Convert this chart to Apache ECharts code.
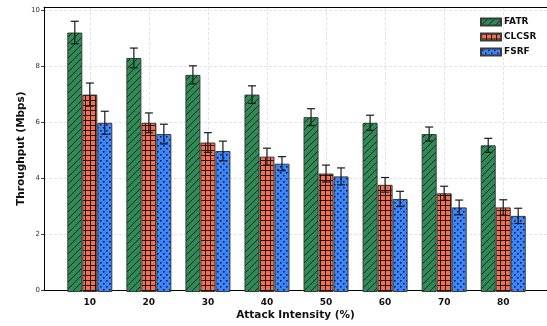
<!DOCTYPE html>
<html><head><meta charset="utf-8">
<script src="https://cdn.jsdelivr.net/npm/echarts@6/dist/echarts.min.js"></script>
<style>html,body{margin:0;padding:0;background:#fff}#c{width:547px;height:326px}</style>
</head><body><div id="c"></div>
<script>
const categories = ['10','20','30','40','50','60','70','80'];
const seriesNames = ['FATR','CLCSR','FSRF'];
const fatr = [9.2, 8.3, 7.7, 7.0, 6.2, 6.0, 5.6, 5.2];
const clcsr = [7.0, 6.0, 5.3, 4.8, 4.2, 3.8, 3.5, 3.0];
const fsrf = [6.0, 5.6, 5.0, 4.55, 4.1, 3.3, 3.0, 2.7];
const fatrErr = [0.4, 0.35, 0.32, 0.31, 0.3, 0.27, 0.25, 0.25];
const clcsrErr = [0.41, 0.35, 0.35, 0.3, 0.3, 0.26, 0.25, 0.27];
const fsrfErr = [0.41, 0.35, 0.35, 0.25, 0.3, 0.27, 0.26, 0.27];
const yTicks = [0, 2, 4, 6, 8, 10];

function tile(size, base, draw){
  const c = document.createElement('canvas');
  c.width = size; c.height = size;
  const g = c.getContext('2d');
  g.fillStyle = base; g.fillRect(0,0,size,size);
  draw(g, size);
  return c;
}
const greenPat = tile(7, '#2e8b57', (g,s)=>{
  g.strokeStyle = 'rgba(0,0,0,0.8)'; g.lineWidth = 0.9;
  g.beginPath();
  g.moveTo(0,s); g.lineTo(s,0);
  g.moveTo(-1,1); g.lineTo(1,-1);
  g.moveTo(s-1,s+1); g.lineTo(s+1,s-1);
  g.stroke();
});
const redPat = tile(5, '#f0714f', (g,s)=>{
  g.fillStyle = 'rgba(0,0,0,0.8)';
  g.fillRect(0,0,s,1); g.fillRect(0,0,1,s);
});
const bluePat = tile(6, '#3a86ff', (g,s)=>{
  g.fillStyle = 'rgba(0,0,0,0.9)';
  g.fillRect(1,1,1.5,1.5); g.fillRect(4,4,1.5,1.5);
});
const pats = [greenPat, redPat, bluePat];
const vals = [fatr, clcsr, fsrf];
const errs = [fatrErr, clcsrErr, fsrfErr];

const BW = 15;
const barSeries = seriesNames.map((n,i)=>({
  name: n, type: 'bar', xAxisIndex: 0, yAxisIndex: 0,
  barWidth: BW, barGap: '0%',
  data: vals[i],
  itemStyle: { color: {image: pats[i], repeat: 'repeat'}, borderColor: '#3a3a3a', borderWidth: 1 },
  z: 3
}));
const errSeries = seriesNames.map((n,i)=>({
  name: n + ' err', type: 'custom', xAxisIndex: 0, yAxisIndex: 0, z: 5,
  data: vals[i].map((v,k)=>[k, v, errs[i][k]]),
  renderItem: function(params, api){
    const k = api.value(0), v = api.value(1), e = api.value(2);
    const top = api.coord([k, v+e]);
    const bot = api.coord([k, v-e]);
    const cx = top[0] + (i-1)*BW;
    const st = {stroke: '#1a1a1a', lineWidth: 1.2};
    return {type:'group', children:[
      {type:'line', shape:{x1:cx,y1:top[1],x2:cx,y2:bot[1]}, style:st},
      {type:'line', shape:{x1:cx-4,y1:top[1],x2:cx+4,y2:top[1]}, style:st},
      {type:'line', shape:{x1:cx-4,y1:bot[1],x2:cx+4,y2:bot[1]}, style:st}
    ]};
  }
}));

const FONT = 'DejaVu Sans';
const option = {
  animation: false,
  textStyle: {fontFamily: FONT},
  grid: [
    {left: 60.27, right: 14.25, top: 7.18, bottom: 34},
    {left: 44, right: 0, top: 7.18, bottom: 34},
    {left: 89.8, right: 43.8, top: 7.18, bottom: 34}
  ],
  legend: {
    data: seriesNames, orient: 'vertical', left: 475, top: 11,
    itemWidth: 20, itemHeight: 7, itemGap: 3, icon: 'rect',
    textStyle: {fontFamily: FONT, fontWeight: 'bold', fontSize: 9, color: '#111', lineHeight: 12, padding: [0,0,0,-2]}
  },
  xAxis: [
    {gridIndex: 0, type: 'category', data: categories,
     axisLine: {show: false}, axisTick: {show: false}, splitLine: {show: false},
     axisLabel: {fontFamily: FONT, fontWeight: 'bold', fontSize: 9, color: '#111', margin: 6}},
    {gridIndex: 1, type: 'value', min: 0, max: 1, position: 'bottom',
     axisLine: {show: true, lineStyle: {color: '#000', width: 1}}, axisTick: {show: false},
     axisLabel: {show: false}, splitLine: {show: false},
     name: 'Attack Intensity (%)', nameLocation: 'middle', nameGap: 20, nameMoveOverlap: false,
     nameTextStyle: {fontFamily: FONT, fontWeight: 'bold', fontSize: 10.5, color: '#111'}},
    {gridIndex: 1, type: 'value', min: 0, max: 1, position: 'top',
     axisLine: {show: true, lineStyle: {color: '#000', width: 1}}, axisTick: {show: false},
     axisLabel: {show: false}, splitLine: {show: false}},
    {gridIndex: 2, type: 'category', data: categories, boundaryGap: false,
     axisLine: {show: false}, axisTick: {show: false}, axisLabel: {show: false},
     splitLine: {show: true, lineStyle: {color: '#dcdcdc', type: [3,2], width: 0.8}}}
  ],
  yAxis: [
    {gridIndex: 0, type: 'value', min: 0, max: 10.1, show: false},
    {gridIndex: 1, type: 'value', min: 0, max: 10.1, interval: 2,
     axisLine: {show: true, lineStyle: {color: '#000', width: 1}},
     axisTick: {show: true, length: 3, lineStyle: {color: '#444'}},
     axisLabel: {showMaxLabel: false, fontFamily: FONT, fontSize: 7, color: '#333', margin: 4},
     splitLine: {show: true, lineStyle: {color: '#dcdcdc', type: [3,2], width: 0.8}},
     name: 'Throughput (Mbps)', nameLocation: 'middle', nameGap: 17, nameMoveOverlap: false,
     nameTextStyle: {fontFamily: FONT, fontWeight: 'bold', fontSize: 10.5, color: '#111'}},
    {gridIndex: 2, type: 'value', min: 0, max: 10.1, show: false}
  ],
  series: barSeries.concat(errSeries)
};
const chart = echarts.init(document.getElementById('c'), null, {renderer: 'canvas'});
chart.setOption(option);
</script></body></html>
